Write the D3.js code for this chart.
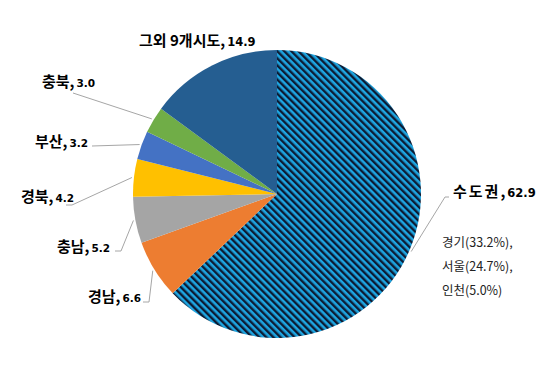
<!DOCTYPE html>
<html>
<head>
<meta charset="utf-8">
<script src="https://cdn.jsdelivr.net/npm/d3@7"></script>
<style>
  body { margin: 0; background: #fff; }
  svg { display: block; }
  .lbl { font-family: "Noto Sans CJK KR", sans-serif; font-weight: bold; font-size: 15px; fill: #000; }
  .num { font-family: "DejaVu Sans", sans-serif; font-weight: bold; font-size: 10.5px; }
  .sub { font-family: "Noto Sans CJK KR", sans-serif; font-size: 12.5px; fill: #222; }
</style>
</head>
<body>
<div id="chart"></div>
<script>
// Data
var regions = ['수도권', '경남', '충남', '경북', '부산', '충북', '그외 9개시도'];
var shares  = [62.9, 6.6, 5.2, 4.2, 3.2, 3.0, 14.9];
var colors  = ['url(#hatch)', '#ed7d31', '#a5a5a5', '#ffc000', '#4472c4', '#70ad47', '#255e91'];
var subLines = ['경기(33.2%),', '서울(24.7%),', '인천(5.0%)'];

// Label layout: text position + elbow of leader line
var labelLayout = [
  { x: 453, y: 197, elbow: [[449, 197], [445, 197]], spacing: 2 },
  { x: 88,  y: 302, elbow: [[143, 302], [149, 302]] },
  { x: 57,  y: 252, elbow: [[115, 251], [121, 251]] },
  { x: 21,  y: 202, elbow: [[66, 205], [72, 205]] },
  { x: 35,  y: 147, elbow: [[92, 146]] },
  { x: 42,  y: 87,  elbow: [[73, 93]] },
  { x: 139, y: 46,  elbow: null }
];

// Dimensions
var width = 544, height = 385;
var cx = 277, cy = 194, radius = 144;

var svg = d3.select('#chart').append('svg')
    .attr('width', width)
    .attr('height', height);

// Hatch pattern for 수도권
var defs = svg.append('defs');
var pat = defs.append('pattern')
    .attr('id', 'hatch')
    .attr('patternUnits', 'userSpaceOnUse')
    .attr('width', 5)
    .attr('height', 5)
    .attr('patternTransform', 'rotate(-45)');
pat.append('rect').attr('width', 5).attr('height', 5).attr('fill', '#1ea5e1');
pat.append('rect').attr('width', 2.4).attr('height', 5).attr('fill', '#0d1b33');

var data = regions.map(function(r, i) { return { name: r, value: shares[i], color: colors[i], layout: labelLayout[i] }; });

var pie = d3.pie()
    .sort(null)
    .value(function(d) { return d.value; });

var arc = d3.arc().innerRadius(0).outerRadius(radius);
var edgeArc = d3.arc().innerRadius(radius + 2).outerRadius(radius + 2);

var g = svg.append('g').attr('transform', 'translate(' + cx + ',' + cy + ')');

var arcs = pie(data);

g.selectAll('path.slice')
    .data(arcs)
    .enter()
    .append('path')
    .attr('class', 'slice')
    .attr('d', arc)
    .attr('fill', function(d) { return d.data.color; });

// Leader lines
var line = d3.line();
svg.selectAll('path.leader')
    .data(arcs.filter(function(d) { return d.data.layout.elbow; }))
    .enter()
    .append('path')
    .attr('class', 'leader')
    .attr('fill', 'none')
    .attr('stroke', '#a6a6a6')
    .attr('stroke-width', 1)
    .attr('d', function(d) {
      var c = edgeArc.centroid(d);
      var pts = d.data.layout.elbow.concat([[c[0] + cx, c[1] + cy]]);
      return line(pts);
    });

// Labels
var labels = svg.selectAll('text.lbl')
    .data(arcs)
    .enter()
    .append('text')
    .attr('class', 'lbl')
    .attr('x', function(d) { return d.data.layout.x; })
    .attr('y', function(d) { return d.data.layout.y; });

labels.append('tspan')
    .attr('letter-spacing', function(d) { return d.data.layout.spacing || 0; })
    .text(function(d) { return d.data.name; });
labels.append('tspan')
    .text(',');
labels.append('tspan')
    .attr('class', 'num')
    .attr('dx', 2)
    .style('font-size', function(d) { return d.data.name === '그외 9개시도' || d.data.name === '수도권' ? '11.5px' : '10.5px'; })
    .text(function(d) { return d3.format('.1f')(d.data.value); });

// 수도권 breakdown
svg.selectAll('text.sub')
    .data(subLines)
    .enter()
    .append('text')
    .attr('class', 'sub')
    .attr('x', 442)
    .attr('y', function(d, i) { return 247 + i * 24; })
    .text(function(d) { return d; });
</script>
</body>
</html>
